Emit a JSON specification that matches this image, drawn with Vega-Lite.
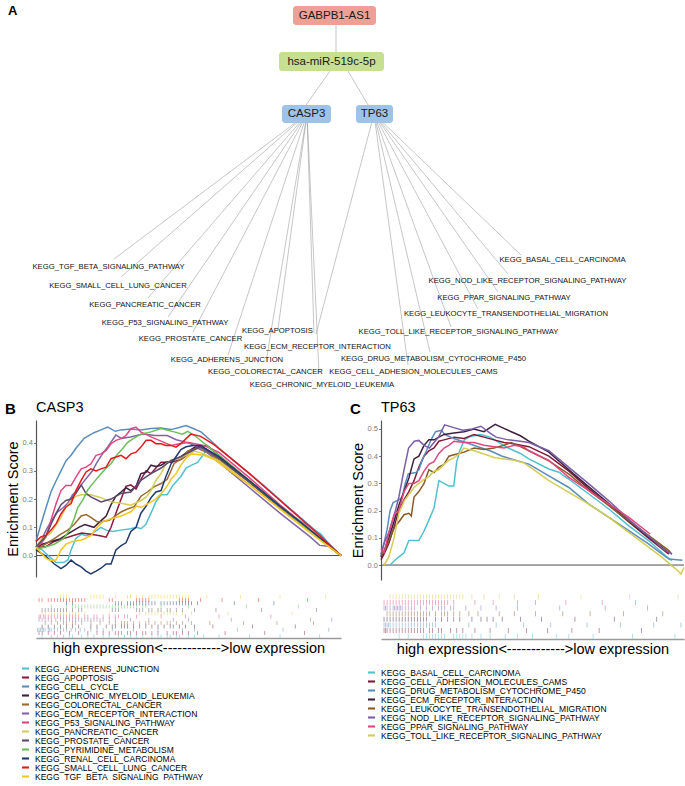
{
"$schema":"https://vega.github.io/schema/vega-lite/v6.json",
"padding":{"left":5,"top":0,"right":0,"bottom":0},
"config":{"font":"Liberation Sans","view":{"stroke":null},"axis":{"grid":false,"labelOverlap":false},"title":{"fontWeight":"normal","color":"#000"}},
"datasets":{
"nodes":[
{"id":"GABPB1-AS1","kind":"lncRNA","x1":292,"x2":375,"y1":6,"y2":25,"cx":333.5,"cy":15.5},
{"id":"hsa-miR-519c-5p","kind":"miRNA","x1":278,"x2":383,"y1":52,"y2":71,"cx":330.5,"cy":61.5},
{"id":"CASP3","kind":"mRNA","x1":281,"x2":330,"y1":105,"y2":123,"cx":305.5,"cy":114},
{"id":"TP63","kind":"mRNA","x1":355,"x2":392,"y1":105,"y2":123,"cx":373.5,"cy":114}
],
"edges":[
{"x":335,"y":15,"x2":335,"y2":62},
{"x":329,"y":71,"x2":305,"y2":105},
{"x":347,"y":71,"x2":367,"y2":105},
{"x":306,"y":114,"x2":113,"y2":259},
{"x":306,"y":114,"x2":120,"y2":277},
{"x":306,"y":114,"x2":147,"y2":298},
{"x":306,"y":114,"x2":167,"y2":317},
{"x":306,"y":114,"x2":192,"y2":332},
{"x":306,"y":114,"x2":227,"y2":355},
{"x":306,"y":114,"x2":277,"y2":329},
{"x":306,"y":114,"x2":265,"y2":362},
{"x":306,"y":114,"x2":313,"y2":333},
{"x":306,"y":114,"x2":318,"y2":373},
{"x":373,"y":114,"x2":520,"y2":255},
{"x":373,"y":114,"x2":507,"y2":274},
{"x":373,"y":114,"x2":497,"y2":292},
{"x":373,"y":114,"x2":477,"y2":309},
{"x":373,"y":114,"x2":450,"y2":327},
{"x":373,"y":114,"x2":429,"y2":352},
{"x":373,"y":114,"x2":407,"y2":365},
{"x":373,"y":114,"x2":315,"y2":334}
],
"labels":[
{"t":"KEGG_TGF_BETA_SIGNALING_PATHWAY","x":107.5,"y":267},
{"t":"KEGG_SMALL_CELL_LUNG_CANCER","x":117,"y":286},
{"t":"KEGG_PANCREATIC_CANCER","x":144,"y":305},
{"t":"KEGG_P53_SIGNALING_PATHWAY","x":164,"y":323},
{"t":"KEGG_PROSTATE_CANCER","x":189.5,"y":339},
{"t":"KEGG_APOPTOSIS","x":276.5,"y":331},
{"t":"KEGG_ECM_RECEPTOR_INTERACTION","x":316.5,"y":347},
{"t":"KEGG_ADHERENS_JUNCTION","x":226,"y":360},
{"t":"KEGG_COLORECTAL_CANCER","x":264.5,"y":372},
{"t":"KEGG_CHRONIC_MYELOID_LEUKEMIA","x":321,"y":385},
{"t":"KEGG_BASAL_CELL_CARCINOMA","x":561.5,"y":260},
{"t":"KEGG_NOD_LIKE_RECEPTOR_SIGNALING_PATHWAY","x":526.5,"y":281},
{"t":"KEGG_PPAR_SIGNALING_PATHWAY","x":503,"y":298},
{"t":"KEGG_LEUKOCYTE_TRANSENDOTHELIAL_MIGRATION","x":505,"y":314},
{"t":"KEGG_TOLL_LIKE_RECEPTOR_SIGNALING_PATHWAY","x":457.5,"y":332},
{"t":"KEGG_DRUG_METABOLISM_CYTOCHROME_P450","x":432.5,"y":359},
{"t":"KEGG_CELL_ADHESION_MOLECULES_CAMS","x":412.5,"y":372}
],
"namesB":[
{"p":"AJ","name":"KEGG_ADHERENS_JUNCTION"},{"p":"AP","name":"KEGG_APOPTOSIS"},{"p":"CC","name":"KEGG_CELL_CYCLE"},{"p":"CM","name":"KEGG_CHRONIC_MYELOID_LEUKEMIA"},{"p":"CR","name":"KEGG_COLORECTAL_CANCER"},{"p":"EC","name":"KEGG_ECM_RECEPTOR_INTERACTION"},{"p":"P5","name":"KEGG_P53_SIGNALING_PATHWAY"},{"p":"PA","name":"KEGG_PANCREATIC_CANCER"},{"p":"PR","name":"KEGG_PROSTATE_CANCER"},{"p":"PY","name":"KEGG_PYRIMIDINE_METABOLISM"},{"p":"RC","name":"KEGG_RENAL_CELL_CARCINOMA"},{"p":"SC","name":"KEGG_SMALL_CELL_LUNG_CANCER"},{"p":"TG","name":"KEGG_TGF_BETA_SIGNALING_PATHWAY"}
],
"namesC":[
{"p":"BC","name":"KEGG_BASAL_CELL_CARCINOMA"},{"p":"CA","name":"KEGG_CELL_ADHESION_MOLECULES_CAMS"},{"p":"DM","name":"KEGG_DRUG_METABOLISM_CYTOCHROME_P450"},{"p":"EC","name":"KEGG_ECM_RECEPTOR_INTERACTION"},{"p":"LT","name":"KEGG_LEUKOCYTE_TRANSENDOTHELIAL_MIGRATION"},{"p":"NL","name":"KEGG_NOD_LIKE_RECEPTOR_SIGNALING_PATHWAY"},{"p":"PP","name":"KEGG_PPAR_SIGNALING_PATHWAY"},{"p":"TL","name":"KEGG_TOLL_LIKE_RECEPTOR_SIGNALING_PATHWAY"}
],
"curvesB":[
{"p":"AJ","x":0,"y":0.03},{"p":"AJ","x":0.02,"y":0.02},{"p":"AJ","x":0.04,"y":0},{"p":"AJ","x":0.066,"y":-0.025},{"p":"AJ","x":0.09,"y":-0.025},{"p":"AJ","x":0.105,"y":-0.015},{"p":"AJ","x":0.115,"y":0.02},{"p":"AJ","x":0.13,"y":0.06},{"p":"AJ","x":0.148,"y":0.075},{"p":"AJ","x":0.165,"y":0.07},{"p":"AJ","x":0.18,"y":0.075},{"p":"AJ","x":0.2,"y":0.09},{"p":"AJ","x":0.213,"y":0.1},{"p":"AJ","x":0.23,"y":0.09},{"p":"AJ","x":0.25,"y":0.085},{"p":"AJ","x":0.279,"y":0.09},{"p":"AJ","x":0.31,"y":0.095},{"p":"AJ","x":0.33,"y":0.1},{"p":"AJ","x":0.344,"y":0.095},{"p":"AJ","x":0.36,"y":0.11},{"p":"AJ","x":0.377,"y":0.15},{"p":"AJ","x":0.393,"y":0.19},{"p":"AJ","x":0.41,"y":0.215},{"p":"AJ","x":0.43,"y":0.215},{"p":"AJ","x":0.45,"y":0.25},{"p":"AJ","x":0.475,"y":0.28},{"p":"AJ","x":0.492,"y":0.31},{"p":"AJ","x":0.51,"y":0.32},{"p":"AJ","x":0.53,"y":0.33},{"p":"AJ","x":0.557,"y":0.37},{"p":"AJ","x":0.6,"y":0.345},{"p":"AJ","x":0.7,"y":0.26},{"p":"AJ","x":0.8,"y":0.17},{"p":"AJ","x":0.9,"y":0.1},{"p":"AJ","x":0.935,"y":0.075},{"p":"AJ","x":0.96,"y":0.04},{"p":"AJ","x":1,"y":0},
{"p":"AP","x":0,"y":0.035},{"p":"AP","x":0.03,"y":0.03},{"p":"AP","x":0.06,"y":0.05},{"p":"AP","x":0.09,"y":0.06},{"p":"AP","x":0.12,"y":0.07},{"p":"AP","x":0.15,"y":0.08},{"p":"AP","x":0.18,"y":0.075},{"p":"AP","x":0.21,"y":0.07},{"p":"AP","x":0.23,"y":0.065},{"p":"AP","x":0.246,"y":0.1},{"p":"AP","x":0.262,"y":0.15},{"p":"AP","x":0.279,"y":0.2},{"p":"AP","x":0.295,"y":0.245},{"p":"AP","x":0.311,"y":0.25},{"p":"AP","x":0.328,"y":0.235},{"p":"AP","x":0.344,"y":0.27},{"p":"AP","x":0.361,"y":0.3},{"p":"AP","x":0.377,"y":0.29},{"p":"AP","x":0.393,"y":0.31},{"p":"AP","x":0.41,"y":0.33},{"p":"AP","x":0.443,"y":0.33},{"p":"AP","x":0.475,"y":0.34},{"p":"AP","x":0.5,"y":0.36},{"p":"AP","x":0.53,"y":0.385},{"p":"AP","x":0.56,"y":0.39},{"p":"AP","x":0.6,"y":0.355},{"p":"AP","x":0.7,"y":0.265},{"p":"AP","x":0.8,"y":0.175},{"p":"AP","x":0.9,"y":0.085},{"p":"AP","x":1,"y":0},
{"p":"CC","x":0,"y":0.05},{"p":"CC","x":0.016,"y":0.11},{"p":"CC","x":0.033,"y":0.17},{"p":"CC","x":0.049,"y":0.225},{"p":"CC","x":0.066,"y":0.265},{"p":"CC","x":0.082,"y":0.3},{"p":"CC","x":0.098,"y":0.335},{"p":"CC","x":0.115,"y":0.355},{"p":"CC","x":0.131,"y":0.38},{"p":"CC","x":0.158,"y":0.415},{"p":"CC","x":0.19,"y":0.435},{"p":"CC","x":0.213,"y":0.445},{"p":"CC","x":0.235,"y":0.455},{"p":"CC","x":0.26,"y":0.44},{"p":"CC","x":0.279,"y":0.445},{"p":"CC","x":0.31,"y":0.448},{"p":"CC","x":0.344,"y":0.445},{"p":"CC","x":0.377,"y":0.45},{"p":"CC","x":0.41,"y":0.452},{"p":"CC","x":0.443,"y":0.446},{"p":"CC","x":0.475,"y":0.455},{"p":"CC","x":0.492,"y":0.46},{"p":"CC","x":0.515,"y":0.45},{"p":"CC","x":0.541,"y":0.438},{"p":"CC","x":0.57,"y":0.41},{"p":"CC","x":0.6,"y":0.38},{"p":"CC","x":0.65,"y":0.335},{"p":"CC","x":0.75,"y":0.245},{"p":"CC","x":0.85,"y":0.15},{"p":"CC","x":0.93,"y":0.075},{"p":"CC","x":1,"y":0},
{"p":"CM","x":0,"y":0.03},{"p":"CM","x":0.02,"y":0.04},{"p":"CM","x":0.05,"y":0.05},{"p":"CM","x":0.08,"y":0.06},{"p":"CM","x":0.11,"y":0.08},{"p":"CM","x":0.14,"y":0.1},{"p":"CM","x":0.16,"y":0.11},{"p":"CM","x":0.19,"y":0.1},{"p":"CM","x":0.21,"y":0.12},{"p":"CM","x":0.23,"y":0.14},{"p":"CM","x":0.246,"y":0.18},{"p":"CM","x":0.262,"y":0.21},{"p":"CM","x":0.279,"y":0.225},{"p":"CM","x":0.295,"y":0.24},{"p":"CM","x":0.311,"y":0.23},{"p":"CM","x":0.328,"y":0.245},{"p":"CM","x":0.344,"y":0.29},{"p":"CM","x":0.361,"y":0.295},{"p":"CM","x":0.377,"y":0.32},{"p":"CM","x":0.393,"y":0.315},{"p":"CM","x":0.41,"y":0.32},{"p":"CM","x":0.426,"y":0.33},{"p":"CM","x":0.443,"y":0.335},{"p":"CM","x":0.475,"y":0.35},{"p":"CM","x":0.5,"y":0.37},{"p":"CM","x":0.53,"y":0.39},{"p":"CM","x":0.56,"y":0.375},{"p":"CM","x":0.6,"y":0.345},{"p":"CM","x":0.7,"y":0.26},{"p":"CM","x":0.8,"y":0.17},{"p":"CM","x":0.9,"y":0.085},{"p":"CM","x":1,"y":0},
{"p":"CR","x":0,"y":0.02},{"p":"CR","x":0.03,"y":0.04},{"p":"CR","x":0.06,"y":0.06},{"p":"CR","x":0.08,"y":0.075},{"p":"CR","x":0.104,"y":0.09},{"p":"CR","x":0.125,"y":0.11},{"p":"CR","x":0.148,"y":0.14},{"p":"CR","x":0.165,"y":0.145},{"p":"CR","x":0.18,"y":0.135},{"p":"CR","x":0.2,"y":0.12},{"p":"CR","x":0.213,"y":0.12},{"p":"CR","x":0.24,"y":0.125},{"p":"CR","x":0.26,"y":0.14},{"p":"CR","x":0.28,"y":0.155},{"p":"CR","x":0.3,"y":0.165},{"p":"CR","x":0.322,"y":0.173},{"p":"CR","x":0.344,"y":0.21},{"p":"CR","x":0.365,"y":0.225},{"p":"CR","x":0.388,"y":0.244},{"p":"CR","x":0.41,"y":0.255},{"p":"CR","x":0.43,"y":0.27},{"p":"CR","x":0.453,"y":0.326},{"p":"CR","x":0.48,"y":0.345},{"p":"CR","x":0.497,"y":0.37},{"p":"CR","x":0.53,"y":0.38},{"p":"CR","x":0.57,"y":0.36},{"p":"CR","x":0.6,"y":0.34},{"p":"CR","x":0.7,"y":0.26},{"p":"CR","x":0.8,"y":0.17},{"p":"CR","x":0.9,"y":0.085},{"p":"CR","x":1,"y":0},
{"p":"EC","x":0,"y":0.03},{"p":"EC","x":0.016,"y":0.05},{"p":"EC","x":0.033,"y":0.09},{"p":"EC","x":0.049,"y":0.12},{"p":"EC","x":0.071,"y":0.155},{"p":"EC","x":0.09,"y":0.17},{"p":"EC","x":0.104,"y":0.185},{"p":"EC","x":0.12,"y":0.215},{"p":"EC","x":0.137,"y":0.233},{"p":"EC","x":0.155,"y":0.26},{"p":"EC","x":0.17,"y":0.28},{"p":"EC","x":0.185,"y":0.3},{"p":"EC","x":0.2,"y":0.33},{"p":"EC","x":0.218,"y":0.36},{"p":"EC","x":0.235,"y":0.385},{"p":"EC","x":0.262,"y":0.427},{"p":"EC","x":0.28,"y":0.415},{"p":"EC","x":0.31,"y":0.42},{"p":"EC","x":0.35,"y":0.43},{"p":"EC","x":0.39,"y":0.425},{"p":"EC","x":0.43,"y":0.425},{"p":"EC","x":0.46,"y":0.41},{"p":"EC","x":0.497,"y":0.4},{"p":"EC","x":0.55,"y":0.375},{"p":"EC","x":0.6,"y":0.33},{"p":"EC","x":0.7,"y":0.24},{"p":"EC","x":0.8,"y":0.15},{"p":"EC","x":0.9,"y":0.065},{"p":"EC","x":0.93,"y":0.036},{"p":"EC","x":0.96,"y":0.033},{"p":"EC","x":1,"y":0},
{"p":"P5","x":0,"y":0.03},{"p":"P5","x":0.016,"y":0.042},{"p":"P5","x":0.033,"y":0.066},{"p":"P5","x":0.049,"y":0.125},{"p":"P5","x":0.066,"y":0.184},{"p":"P5","x":0.082,"y":0.23},{"p":"P5","x":0.098,"y":0.248},{"p":"P5","x":0.115,"y":0.248},{"p":"P5","x":0.131,"y":0.278},{"p":"P5","x":0.148,"y":0.307},{"p":"P5","x":0.164,"y":0.313},{"p":"P5","x":0.18,"y":0.325},{"p":"P5","x":0.197,"y":0.355},{"p":"P5","x":0.213,"y":0.36},{"p":"P5","x":0.23,"y":0.372},{"p":"P5","x":0.246,"y":0.396},{"p":"P5","x":0.262,"y":0.408},{"p":"P5","x":0.279,"y":0.414},{"p":"P5","x":0.295,"y":0.425},{"p":"P5","x":0.311,"y":0.449},{"p":"P5","x":0.328,"y":0.455},{"p":"P5","x":0.344,"y":0.437},{"p":"P5","x":0.361,"y":0.43},{"p":"P5","x":0.377,"y":0.42},{"p":"P5","x":0.41,"y":0.405},{"p":"P5","x":0.443,"y":0.39},{"p":"P5","x":0.475,"y":0.397},{"p":"P5","x":0.5,"y":0.4},{"p":"P5","x":0.55,"y":0.39},{"p":"P5","x":0.6,"y":0.365},{"p":"P5","x":0.7,"y":0.275},{"p":"P5","x":0.8,"y":0.18},{"p":"P5","x":0.9,"y":0.09},{"p":"P5","x":1,"y":0},
{"p":"PA","x":0,"y":0.03},{"p":"PA","x":0.016,"y":0.055},{"p":"PA","x":0.049,"y":0.08},{"p":"PA","x":0.082,"y":0.135},{"p":"PA","x":0.098,"y":0.17},{"p":"PA","x":0.115,"y":0.195},{"p":"PA","x":0.131,"y":0.21},{"p":"PA","x":0.148,"y":0.215},{"p":"PA","x":0.18,"y":0.215},{"p":"PA","x":0.213,"y":0.205},{"p":"PA","x":0.246,"y":0.19},{"p":"PA","x":0.279,"y":0.185},{"p":"PA","x":0.311,"y":0.178},{"p":"PA","x":0.344,"y":0.195},{"p":"PA","x":0.361,"y":0.207},{"p":"PA","x":0.377,"y":0.23},{"p":"PA","x":0.393,"y":0.266},{"p":"PA","x":0.41,"y":0.29},{"p":"PA","x":0.426,"y":0.325},{"p":"PA","x":0.443,"y":0.337},{"p":"PA","x":0.475,"y":0.348},{"p":"PA","x":0.492,"y":0.355},{"p":"PA","x":0.52,"y":0.37},{"p":"PA","x":0.55,"y":0.36},{"p":"PA","x":0.6,"y":0.335},{"p":"PA","x":0.7,"y":0.25},{"p":"PA","x":0.8,"y":0.165},{"p":"PA","x":0.9,"y":0.08},{"p":"PA","x":1,"y":0},
{"p":"PR","x":0,"y":0.03},{"p":"PR","x":0.033,"y":0.07},{"p":"PR","x":0.049,"y":0.11},{"p":"PR","x":0.066,"y":0.15},{"p":"PR","x":0.082,"y":0.18},{"p":"PR","x":0.098,"y":0.195},{"p":"PR","x":0.115,"y":0.2},{"p":"PR","x":0.131,"y":0.22},{"p":"PR","x":0.148,"y":0.25},{"p":"PR","x":0.164,"y":0.22},{"p":"PR","x":0.18,"y":0.208},{"p":"PR","x":0.213,"y":0.19},{"p":"PR","x":0.246,"y":0.2},{"p":"PR","x":0.279,"y":0.22},{"p":"PR","x":0.311,"y":0.225},{"p":"PR","x":0.344,"y":0.266},{"p":"PR","x":0.377,"y":0.29},{"p":"PR","x":0.41,"y":0.31},{"p":"PR","x":0.443,"y":0.337},{"p":"PR","x":0.475,"y":0.35},{"p":"PR","x":0.508,"y":0.37},{"p":"PR","x":0.54,"y":0.385},{"p":"PR","x":0.6,"y":0.345},{"p":"PR","x":0.7,"y":0.26},{"p":"PR","x":0.8,"y":0.17},{"p":"PR","x":0.9,"y":0.085},{"p":"PR","x":1,"y":0},
{"p":"PY","x":0,"y":0.02},{"p":"PY","x":0.03,"y":0.03},{"p":"PY","x":0.06,"y":0.04},{"p":"PY","x":0.09,"y":0.06},{"p":"PY","x":0.11,"y":0.09},{"p":"PY","x":0.125,"y":0.13},{"p":"PY","x":0.137,"y":0.17},{"p":"PY","x":0.155,"y":0.2},{"p":"PY","x":0.17,"y":0.233},{"p":"PY","x":0.19,"y":0.26},{"p":"PY","x":0.213,"y":0.29},{"p":"PY","x":0.23,"y":0.31},{"p":"PY","x":0.246,"y":0.325},{"p":"PY","x":0.268,"y":0.36},{"p":"PY","x":0.285,"y":0.38},{"p":"PY","x":0.3,"y":0.4},{"p":"PY","x":0.32,"y":0.415},{"p":"PY","x":0.344,"y":0.43},{"p":"PY","x":0.377,"y":0.438},{"p":"PY","x":0.41,"y":0.45},{"p":"PY","x":0.453,"y":0.438},{"p":"PY","x":0.48,"y":0.43},{"p":"PY","x":0.497,"y":0.44},{"p":"PY","x":0.52,"y":0.425},{"p":"PY","x":0.6,"y":0.355},{"p":"PY","x":0.7,"y":0.265},{"p":"PY","x":0.8,"y":0.175},{"p":"PY","x":0.9,"y":0.085},{"p":"PY","x":1,"y":0},
{"p":"RC","x":0,"y":0.02},{"p":"RC","x":0.03,"y":0},{"p":"RC","x":0.06,"y":-0.03},{"p":"RC","x":0.082,"y":-0.046},{"p":"RC","x":0.098,"y":-0.035},{"p":"RC","x":0.115,"y":-0.016},{"p":"RC","x":0.131,"y":-0.03},{"p":"RC","x":0.148,"y":-0.04},{"p":"RC","x":0.164,"y":-0.055},{"p":"RC","x":0.18,"y":-0.065},{"p":"RC","x":0.197,"y":-0.055},{"p":"RC","x":0.213,"y":-0.045},{"p":"RC","x":0.23,"y":-0.03},{"p":"RC","x":0.246,"y":-0.03},{"p":"RC","x":0.262,"y":0.02},{"p":"RC","x":0.279,"y":0.035},{"p":"RC","x":0.295,"y":0.045},{"p":"RC","x":0.311,"y":0.085},{"p":"RC","x":0.328,"y":0.1},{"p":"RC","x":0.344,"y":0.15},{"p":"RC","x":0.361,"y":0.175},{"p":"RC","x":0.377,"y":0.205},{"p":"RC","x":0.393,"y":0.225},{"p":"RC","x":0.41,"y":0.23},{"p":"RC","x":0.426,"y":0.28},{"p":"RC","x":0.443,"y":0.325},{"p":"RC","x":0.459,"y":0.35},{"p":"RC","x":0.475,"y":0.375},{"p":"RC","x":0.492,"y":0.385},{"p":"RC","x":0.515,"y":0.39},{"p":"RC","x":0.54,"y":0.39},{"p":"RC","x":0.57,"y":0.37},{"p":"RC","x":0.6,"y":0.35},{"p":"RC","x":0.7,"y":0.265},{"p":"RC","x":0.8,"y":0.175},{"p":"RC","x":0.9,"y":0.09},{"p":"RC","x":1,"y":0},
{"p":"SC","x":0,"y":0.05},{"p":"SC","x":0.016,"y":0.066},{"p":"SC","x":0.033,"y":0.072},{"p":"SC","x":0.049,"y":0.09},{"p":"SC","x":0.066,"y":0.113},{"p":"SC","x":0.082,"y":0.148},{"p":"SC","x":0.098,"y":0.172},{"p":"SC","x":0.115,"y":0.184},{"p":"SC","x":0.131,"y":0.23},{"p":"SC","x":0.148,"y":0.266},{"p":"SC","x":0.164,"y":0.296},{"p":"SC","x":0.18,"y":0.307},{"p":"SC","x":0.197,"y":0.3},{"p":"SC","x":0.213,"y":0.307},{"p":"SC","x":0.23,"y":0.313},{"p":"SC","x":0.246,"y":0.343},{"p":"SC","x":0.262,"y":0.349},{"p":"SC","x":0.279,"y":0.355},{"p":"SC","x":0.295,"y":0.343},{"p":"SC","x":0.311,"y":0.36},{"p":"SC","x":0.328,"y":0.366},{"p":"SC","x":0.344,"y":0.384},{"p":"SC","x":0.361,"y":0.408},{"p":"SC","x":0.377,"y":0.408},{"p":"SC","x":0.393,"y":0.396},{"p":"SC","x":0.41,"y":0.396},{"p":"SC","x":0.426,"y":0.39},{"p":"SC","x":0.443,"y":0.39},{"p":"SC","x":0.459,"y":0.384},{"p":"SC","x":0.475,"y":0.396},{"p":"SC","x":0.492,"y":0.414},{"p":"SC","x":0.508,"y":0.43},{"p":"SC","x":0.54,"y":0.422},{"p":"SC","x":0.585,"y":0.392},{"p":"SC","x":0.7,"y":0.29},{"p":"SC","x":0.8,"y":0.195},{"p":"SC","x":0.9,"y":0.1},{"p":"SC","x":1,"y":0},
{"p":"TG","x":0,"y":0.03},{"p":"TG","x":0.016,"y":0.01},{"p":"TG","x":0.033,"y":-0.01},{"p":"TG","x":0.049,"y":-0.018},{"p":"TG","x":0.066,"y":-0.015},{"p":"TG","x":0.082,"y":0.02},{"p":"TG","x":0.098,"y":0.04},{"p":"TG","x":0.12,"y":0.05},{"p":"TG","x":0.15,"y":0.055},{"p":"TG","x":0.18,"y":0.07},{"p":"TG","x":0.2,"y":0.1},{"p":"TG","x":0.22,"y":0.12},{"p":"TG","x":0.246,"y":0.13},{"p":"TG","x":0.279,"y":0.14},{"p":"TG","x":0.311,"y":0.155},{"p":"TG","x":0.33,"y":0.175},{"p":"TG","x":0.344,"y":0.17},{"p":"TG","x":0.361,"y":0.18},{"p":"TG","x":0.377,"y":0.19},{"p":"TG","x":0.393,"y":0.2},{"p":"TG","x":0.41,"y":0.22},{"p":"TG","x":0.426,"y":0.24},{"p":"TG","x":0.443,"y":0.27},{"p":"TG","x":0.459,"y":0.29},{"p":"TG","x":0.475,"y":0.32},{"p":"TG","x":0.492,"y":0.345},{"p":"TG","x":0.51,"y":0.36},{"p":"TG","x":0.55,"y":0.355},{"p":"TG","x":0.585,"y":0.34},{"p":"TG","x":0.7,"y":0.25},{"p":"TG","x":0.8,"y":0.165},{"p":"TG","x":0.9,"y":0.08},{"p":"TG","x":1,"y":0}
],
"curvesC":[
{"p":"BC","x":0.03,"y":0},{"p":"BC","x":0.043,"y":0.015},{"p":"BC","x":0.059,"y":0.03},{"p":"BC","x":0.076,"y":0.045},{"p":"BC","x":0.092,"y":0.09},{"p":"BC","x":0.109,"y":0.09},{"p":"BC","x":0.125,"y":0.09},{"p":"BC","x":0.142,"y":0.125},{"p":"BC","x":0.158,"y":0.165},{"p":"BC","x":0.175,"y":0.21},{"p":"BC","x":0.191,"y":0.31},{"p":"BC","x":0.208,"y":0.3},{"p":"BC","x":0.224,"y":0.29},{"p":"BC","x":0.24,"y":0.29},{"p":"BC","x":0.25,"y":0.38},{"p":"BC","x":0.26,"y":0.42},{"p":"BC","x":0.275,"y":0.46},{"p":"BC","x":0.29,"y":0.47},{"p":"BC","x":0.307,"y":0.475},{"p":"BC","x":0.33,"y":0.48},{"p":"BC","x":0.36,"y":0.47},{"p":"BC","x":0.39,"y":0.45},{"p":"BC","x":0.42,"y":0.43},{"p":"BC","x":0.46,"y":0.41},{"p":"BC","x":0.488,"y":0.39},{"p":"BC","x":0.554,"y":0.353},{"p":"BC","x":0.59,"y":0.34},{"p":"BC","x":0.6,"y":0.33},{"p":"BC","x":0.62,"y":0.316},{"p":"BC","x":0.686,"y":0.261},{"p":"BC","x":0.752,"y":0.206},{"p":"BC","x":0.818,"y":0.144},{"p":"BC","x":0.884,"y":0.089},{"p":"BC","x":0.939,"y":0.034},{"p":"BC","x":0.96,"y":0.016},
{"p":"CA","x":0,"y":0.02},{"p":"CA","x":0.01,"y":0.04},{"p":"CA","x":0.026,"y":0.08},{"p":"CA","x":0.043,"y":0.14},{"p":"CA","x":0.059,"y":0.2},{"p":"CA","x":0.076,"y":0.24},{"p":"CA","x":0.092,"y":0.27},{"p":"CA","x":0.109,"y":0.31},{"p":"CA","x":0.125,"y":0.36},{"p":"CA","x":0.142,"y":0.4},{"p":"CA","x":0.158,"y":0.42},{"p":"CA","x":0.175,"y":0.43},{"p":"CA","x":0.191,"y":0.455},{"p":"CA","x":0.208,"y":0.46},{"p":"CA","x":0.241,"y":0.47},{"p":"CA","x":0.274,"y":0.465},{"p":"CA","x":0.307,"y":0.48},{"p":"CA","x":0.34,"y":0.47},{"p":"CA","x":0.373,"y":0.46},{"p":"CA","x":0.406,"y":0.45},{"p":"CA","x":0.44,"y":0.445},{"p":"CA","x":0.488,"y":0.435},{"p":"CA","x":0.554,"y":0.4},{"p":"CA","x":0.62,"y":0.345},{"p":"CA","x":0.686,"y":0.28},{"p":"CA","x":0.752,"y":0.22},{"p":"CA","x":0.818,"y":0.158},{"p":"CA","x":0.884,"y":0.098},{"p":"CA","x":0.95,"y":0.04},
{"p":"DM","x":0,"y":0.03},{"p":"DM","x":0.01,"y":0.08},{"p":"DM","x":0.02,"y":0.13},{"p":"DM","x":0.03,"y":0.2},{"p":"DM","x":0.04,"y":0.23},{"p":"DM","x":0.05,"y":0.235},{"p":"DM","x":0.06,"y":0.24},{"p":"DM","x":0.07,"y":0.25},{"p":"DM","x":0.08,"y":0.3},{"p":"DM","x":0.09,"y":0.335},{"p":"DM","x":0.115,"y":0.34},{"p":"DM","x":0.125,"y":0.35},{"p":"DM","x":0.137,"y":0.39},{"p":"DM","x":0.15,"y":0.42},{"p":"DM","x":0.165,"y":0.46},{"p":"DM","x":0.18,"y":0.49},{"p":"DM","x":0.2,"y":0.495},{"p":"DM","x":0.21,"y":0.48},{"p":"DM","x":0.24,"y":0.465},{"p":"DM","x":0.28,"y":0.45},{"p":"DM","x":0.32,"y":0.435},{"p":"DM","x":0.36,"y":0.42},{"p":"DM","x":0.4,"y":0.4},{"p":"DM","x":0.43,"y":0.39},{"p":"DM","x":0.488,"y":0.371},{"p":"DM","x":0.554,"y":0.328},{"p":"DM","x":0.62,"y":0.285},{"p":"DM","x":0.686,"y":0.224},{"p":"DM","x":0.752,"y":0.175},{"p":"DM","x":0.818,"y":0.126},{"p":"DM","x":0.884,"y":0.077},{"p":"DM","x":0.928,"y":0.04},{"p":"DM","x":0.95,"y":0.022},{"p":"DM","x":0.995,"y":0.018},
{"p":"EC","x":0,"y":0.03},{"p":"EC","x":0.01,"y":0.05},{"p":"EC","x":0.026,"y":0.1},{"p":"EC","x":0.043,"y":0.16},{"p":"EC","x":0.059,"y":0.22},{"p":"EC","x":0.076,"y":0.27},{"p":"EC","x":0.092,"y":0.32},{"p":"EC","x":0.109,"y":0.39},{"p":"EC","x":0.125,"y":0.4},{"p":"EC","x":0.142,"y":0.44},{"p":"EC","x":0.158,"y":0.46},{"p":"EC","x":0.175,"y":0.46},{"p":"EC","x":0.191,"y":0.47},{"p":"EC","x":0.208,"y":0.48},{"p":"EC","x":0.241,"y":0.485},{"p":"EC","x":0.274,"y":0.49},{"p":"EC","x":0.307,"y":0.5},{"p":"EC","x":0.34,"y":0.49},{"p":"EC","x":0.36,"y":0.505},{"p":"EC","x":0.377,"y":0.517},{"p":"EC","x":0.4,"y":0.505},{"p":"EC","x":0.43,"y":0.49},{"p":"EC","x":0.46,"y":0.475},{"p":"EC","x":0.488,"y":0.455},{"p":"EC","x":0.554,"y":0.415},{"p":"EC","x":0.62,"y":0.35},{"p":"EC","x":0.686,"y":0.287},{"p":"EC","x":0.752,"y":0.226},{"p":"EC","x":0.818,"y":0.163},{"p":"EC","x":0.884,"y":0.102},{"p":"EC","x":0.95,"y":0.046},
{"p":"LT","x":0,"y":0.035},{"p":"LT","x":0.015,"y":0.06},{"p":"LT","x":0.03,"y":0.1},{"p":"LT","x":0.045,"y":0.14},{"p":"LT","x":0.06,"y":0.16},{"p":"LT","x":0.076,"y":0.185},{"p":"LT","x":0.092,"y":0.19},{"p":"LT","x":0.1,"y":0.18},{"p":"LT","x":0.109,"y":0.25},{"p":"LT","x":0.125,"y":0.27},{"p":"LT","x":0.142,"y":0.3},{"p":"LT","x":0.158,"y":0.35},{"p":"LT","x":0.175,"y":0.34},{"p":"LT","x":0.191,"y":0.36},{"p":"LT","x":0.208,"y":0.37},{"p":"LT","x":0.224,"y":0.4},{"p":"LT","x":0.241,"y":0.405},{"p":"LT","x":0.274,"y":0.415},{"p":"LT","x":0.307,"y":0.43},{"p":"LT","x":0.34,"y":0.425},{"p":"LT","x":0.373,"y":0.43},{"p":"LT","x":0.406,"y":0.44},{"p":"LT","x":0.43,"y":0.45},{"p":"LT","x":0.46,"y":0.435},{"p":"LT","x":0.488,"y":0.42},{"p":"LT","x":0.554,"y":0.383},{"p":"LT","x":0.62,"y":0.334},{"p":"LT","x":0.686,"y":0.273},{"p":"LT","x":0.752,"y":0.218},{"p":"LT","x":0.818,"y":0.163},{"p":"LT","x":0.884,"y":0.108},{"p":"LT","x":0.95,"y":0.053},{"p":"LT","x":0.96,"y":0.04},
{"p":"NL","x":0,"y":0.04},{"p":"NL","x":0.01,"y":0.08},{"p":"NL","x":0.026,"y":0.12},{"p":"NL","x":0.043,"y":0.18},{"p":"NL","x":0.059,"y":0.25},{"p":"NL","x":0.076,"y":0.35},{"p":"NL","x":0.091,"y":0.43},{"p":"NL","x":0.11,"y":0.455},{"p":"NL","x":0.125,"y":0.458},{"p":"NL","x":0.142,"y":0.44},{"p":"NL","x":0.16,"y":0.43},{"p":"NL","x":0.175,"y":0.45},{"p":"NL","x":0.19,"y":0.47},{"p":"NL","x":0.21,"y":0.515},{"p":"NL","x":0.24,"y":0.505},{"p":"NL","x":0.27,"y":0.495},{"p":"NL","x":0.3,"y":0.5},{"p":"NL","x":0.33,"y":0.51},{"p":"NL","x":0.36,"y":0.485},{"p":"NL","x":0.38,"y":0.47},{"p":"NL","x":0.42,"y":0.46},{"p":"NL","x":0.46,"y":0.455},{"p":"NL","x":0.488,"y":0.45},{"p":"NL","x":0.554,"y":0.42},{"p":"NL","x":0.62,"y":0.359},{"p":"NL","x":0.686,"y":0.298},{"p":"NL","x":0.752,"y":0.236},{"p":"NL","x":0.818,"y":0.168},{"p":"NL","x":0.868,"y":0.12},{"p":"NL","x":0.9,"y":0.09},{"p":"NL","x":0.93,"y":0.06},{"p":"NL","x":0.96,"y":0.04},
{"p":"PP","x":0,"y":0.06},{"p":"PP","x":0.01,"y":0.045},{"p":"PP","x":0.026,"y":0.12},{"p":"PP","x":0.043,"y":0.185},{"p":"PP","x":0.059,"y":0.2},{"p":"PP","x":0.076,"y":0.27},{"p":"PP","x":0.092,"y":0.3},{"p":"PP","x":0.109,"y":0.3},{"p":"PP","x":0.125,"y":0.31},{"p":"PP","x":0.142,"y":0.345},{"p":"PP","x":0.158,"y":0.37},{"p":"PP","x":0.175,"y":0.38},{"p":"PP","x":0.191,"y":0.41},{"p":"PP","x":0.208,"y":0.43},{"p":"PP","x":0.224,"y":0.44},{"p":"PP","x":0.241,"y":0.455},{"p":"PP","x":0.274,"y":0.45},{"p":"PP","x":0.307,"y":0.45},{"p":"PP","x":0.34,"y":0.44},{"p":"PP","x":0.373,"y":0.435},{"p":"PP","x":0.406,"y":0.43},{"p":"PP","x":0.44,"y":0.44},{"p":"PP","x":0.47,"y":0.435},{"p":"PP","x":0.488,"y":0.42},{"p":"PP","x":0.554,"y":0.385},{"p":"PP","x":0.62,"y":0.322},{"p":"PP","x":0.686,"y":0.273},{"p":"PP","x":0.752,"y":0.224},{"p":"PP","x":0.818,"y":0.175},{"p":"PP","x":0.888,"y":0.114},
{"p":"TL","x":0.01,"y":0},{"p":"TL","x":0.026,"y":0.03},{"p":"TL","x":0.043,"y":0.1},{"p":"TL","x":0.059,"y":0.19},{"p":"TL","x":0.076,"y":0.235},{"p":"TL","x":0.092,"y":0.26},{"p":"TL","x":0.109,"y":0.285},{"p":"TL","x":0.125,"y":0.3},{"p":"TL","x":0.142,"y":0.315},{"p":"TL","x":0.158,"y":0.325},{"p":"TL","x":0.175,"y":0.345},{"p":"TL","x":0.191,"y":0.35},{"p":"TL","x":0.208,"y":0.37},{"p":"TL","x":0.224,"y":0.385},{"p":"TL","x":0.241,"y":0.395},{"p":"TL","x":0.257,"y":0.408},{"p":"TL","x":0.274,"y":0.43},{"p":"TL","x":0.29,"y":0.425},{"p":"TL","x":0.307,"y":0.42},{"p":"TL","x":0.34,"y":0.408},{"p":"TL","x":0.373,"y":0.395},{"p":"TL","x":0.406,"y":0.39},{"p":"TL","x":0.44,"y":0.385},{"p":"TL","x":0.472,"y":0.375},{"p":"TL","x":0.505,"y":0.35},{"p":"TL","x":0.554,"y":0.31},{"p":"TL","x":0.62,"y":0.267},{"p":"TL","x":0.686,"y":0.224},{"p":"TL","x":0.752,"y":0.175},{"p":"TL","x":0.818,"y":0.12},{"p":"TL","x":0.884,"y":0.065},{"p":"TL","x":0.928,"y":0.028},{"p":"TL","x":0.96,"y":-0.003},{"p":"TL","x":0.98,"y":-0.021},{"p":"TL","x":0.99,"y":-0.033},{"p":"TL","x":1,"y":-0.009}
],
"rugB":[
{"p":"AJ","x":0.02},{"p":"AJ","x":0.05},{"p":"AJ","x":0.07},{"p":"AJ","x":0.09},{"p":"AJ","x":0.11},{"p":"AJ","x":0.12},{"p":"AJ","x":0.15},{"p":"AJ","x":0.17},{"p":"AJ","x":0.19},{"p":"AJ","x":0.22},{"p":"AJ","x":0.24},{"p":"AJ","x":0.27},{"p":"AJ","x":0.29},{"p":"AJ","x":0.31},{"p":"AJ","x":0.33},{"p":"AJ","x":0.35},{"p":"AJ","x":0.38},{"p":"AJ","x":0.4},{"p":"AJ","x":0.41},{"p":"AJ","x":0.43},{"p":"AJ","x":0.44},{"p":"AJ","x":0.46},{"p":"AJ","x":0.47},{"p":"AJ","x":0.5},{"p":"AJ","x":0.52},{"p":"AJ","x":0.55},{"p":"AJ","x":0.6},{"p":"AJ","x":0.7},{"p":"AJ","x":0.8},{"p":"AJ","x":0.93},
{"p":"AP","x":0.01},{"p":"AP","x":0.02},{"p":"AP","x":0.04},{"p":"AP","x":0.06},{"p":"AP","x":0.08},{"p":"AP","x":0.11},{"p":"AP","x":0.14},{"p":"AP","x":0.17},{"p":"AP","x":0.2},{"p":"AP","x":0.22},{"p":"AP","x":0.24},{"p":"AP","x":0.26},{"p":"AP","x":0.27},{"p":"AP","x":0.28},{"p":"AP","x":0.3},{"p":"AP","x":0.31},{"p":"AP","x":0.33},{"p":"AP","x":0.35},{"p":"AP","x":0.36},{"p":"AP","x":0.38},{"p":"AP","x":0.4},{"p":"AP","x":0.43},{"p":"AP","x":0.45},{"p":"AP","x":0.46},{"p":"AP","x":0.48},{"p":"AP","x":0.5},{"p":"AP","x":0.53},{"p":"AP","x":0.62},{"p":"AP","x":0.75},{"p":"AP","x":0.88},
{"p":"CC","x":0.005},{"p":"CC","x":0.01},{"p":"CC","x":0.015},{"p":"CC","x":0.02},{"p":"CC","x":0.025},{"p":"CC","x":0.03},{"p":"CC","x":0.04},{"p":"CC","x":0.045},{"p":"CC","x":0.05},{"p":"CC","x":0.06},{"p":"CC","x":0.07},{"p":"CC","x":0.08},{"p":"CC","x":0.09},{"p":"CC","x":0.1},{"p":"CC","x":0.115},{"p":"CC","x":0.13},{"p":"CC","x":0.145},{"p":"CC","x":0.16},{"p":"CC","x":0.18},{"p":"CC","x":0.2},{"p":"CC","x":0.22},{"p":"CC","x":0.25},{"p":"CC","x":0.32},{"p":"CC","x":0.4},{"p":"CC","x":0.48},{"p":"CC","x":0.52},{"p":"CC","x":0.66},{"p":"CC","x":0.81},{"p":"CC","x":0.96},
{"p":"CM","x":0.02},{"p":"CM","x":0.04},{"p":"CM","x":0.06},{"p":"CM","x":0.08},{"p":"CM","x":0.1},{"p":"CM","x":0.12},{"p":"CM","x":0.14},{"p":"CM","x":0.18},{"p":"CM","x":0.2},{"p":"CM","x":0.23},{"p":"CM","x":0.25},{"p":"CM","x":0.26},{"p":"CM","x":0.28},{"p":"CM","x":0.29},{"p":"CM","x":0.3},{"p":"CM","x":0.32},{"p":"CM","x":0.34},{"p":"CM","x":0.36},{"p":"CM","x":0.38},{"p":"CM","x":0.4},{"p":"CM","x":0.42},{"p":"CM","x":0.44},{"p":"CM","x":0.45},{"p":"CM","x":0.47},{"p":"CM","x":0.49},{"p":"CM","x":0.52},{"p":"CM","x":0.58},{"p":"CM","x":0.71},{"p":"CM","x":0.85},
{"p":"CR","x":0.03},{"p":"CR","x":0.05},{"p":"CR","x":0.07},{"p":"CR","x":0.09},{"p":"CR","x":0.1},{"p":"CR","x":0.12},{"p":"CR","x":0.13},{"p":"CR","x":0.15},{"p":"CR","x":0.18},{"p":"CR","x":0.21},{"p":"CR","x":0.24},{"p":"CR","x":0.26},{"p":"CR","x":0.28},{"p":"CR","x":0.29},{"p":"CR","x":0.3},{"p":"CR","x":0.32},{"p":"CR","x":0.34},{"p":"CR","x":0.36},{"p":"CR","x":0.37},{"p":"CR","x":0.39},{"p":"CR","x":0.41},{"p":"CR","x":0.43},{"p":"CR","x":0.44},{"p":"CR","x":0.46},{"p":"CR","x":0.48},{"p":"CR","x":0.51},{"p":"CR","x":0.57},{"p":"CR","x":0.68},{"p":"CR","x":0.79},{"p":"CR","x":0.91},
{"p":"EC","x":0.01},{"p":"EC","x":0.02},{"p":"EC","x":0.03},{"p":"EC","x":0.04},{"p":"EC","x":0.05},{"p":"EC","x":0.065},{"p":"EC","x":0.08},{"p":"EC","x":0.09},{"p":"EC","x":0.1},{"p":"EC","x":0.11},{"p":"EC","x":0.12},{"p":"EC","x":0.13},{"p":"EC","x":0.14},{"p":"EC","x":0.15},{"p":"EC","x":0.16},{"p":"EC","x":0.17},{"p":"EC","x":0.18},{"p":"EC","x":0.19},{"p":"EC","x":0.2},{"p":"EC","x":0.21},{"p":"EC","x":0.22},{"p":"EC","x":0.24},{"p":"EC","x":0.26},{"p":"EC","x":0.31},{"p":"EC","x":0.37},{"p":"EC","x":0.45},{"p":"EC","x":0.5},{"p":"EC","x":0.64},{"p":"EC","x":0.9},{"p":"EC","x":0.97},
{"p":"P5","x":0.01},{"p":"P5","x":0.015},{"p":"P5","x":0.025},{"p":"P5","x":0.03},{"p":"P5","x":0.04},{"p":"P5","x":0.05},{"p":"P5","x":0.06},{"p":"P5","x":0.07},{"p":"P5","x":0.08},{"p":"P5","x":0.09},{"p":"P5","x":0.1},{"p":"P5","x":0.11},{"p":"P5","x":0.12},{"p":"P5","x":0.13},{"p":"P5","x":0.14},{"p":"P5","x":0.16},{"p":"P5","x":0.17},{"p":"P5","x":0.19},{"p":"P5","x":0.2},{"p":"P5","x":0.22},{"p":"P5","x":0.24},{"p":"P5","x":0.26},{"p":"P5","x":0.27},{"p":"P5","x":0.29},{"p":"P5","x":0.3},{"p":"P5","x":0.33},{"p":"P5","x":0.41},{"p":"P5","x":0.49},{"p":"P5","x":0.6},{"p":"P5","x":0.77},
{"p":"PA","x":0.02},{"p":"PA","x":0.03},{"p":"PA","x":0.05},{"p":"PA","x":0.06},{"p":"PA","x":0.07},{"p":"PA","x":0.08},{"p":"PA","x":0.09},{"p":"PA","x":0.1},{"p":"PA","x":0.11},{"p":"PA","x":0.12},{"p":"PA","x":0.13},{"p":"PA","x":0.14},{"p":"PA","x":0.16},{"p":"PA","x":0.24},{"p":"PA","x":0.34},{"p":"PA","x":0.36},{"p":"PA","x":0.37},{"p":"PA","x":0.38},{"p":"PA","x":0.39},{"p":"PA","x":0.4},{"p":"PA","x":0.41},{"p":"PA","x":0.42},{"p":"PA","x":0.43},{"p":"PA","x":0.44},{"p":"PA","x":0.45},{"p":"PA","x":0.46},{"p":"PA","x":0.48},{"p":"PA","x":0.51},{"p":"PA","x":0.63},{"p":"PA","x":0.84},
{"p":"PR","x":0.02},{"p":"PR","x":0.03},{"p":"PR","x":0.04},{"p":"PR","x":0.05},{"p":"PR","x":0.06},{"p":"PR","x":0.07},{"p":"PR","x":0.08},{"p":"PR","x":0.09},{"p":"PR","x":0.1},{"p":"PR","x":0.12},{"p":"PR","x":0.14},{"p":"PR","x":0.15},{"p":"PR","x":0.25},{"p":"PR","x":0.26},{"p":"PR","x":0.27},{"p":"PR","x":0.33},{"p":"PR","x":0.34},{"p":"PR","x":0.35},{"p":"PR","x":0.37},{"p":"PR","x":0.38},{"p":"PR","x":0.4},{"p":"PR","x":0.41},{"p":"PR","x":0.43},{"p":"PR","x":0.44},{"p":"PR","x":0.46},{"p":"PR","x":0.48},{"p":"PR","x":0.52},{"p":"PR","x":0.59},{"p":"PR","x":0.74},{"p":"PR","x":0.92},
{"p":"PY","x":0.05},{"p":"PY","x":0.1},{"p":"PY","x":0.12},{"p":"PY","x":0.13},{"p":"PY","x":0.14},{"p":"PY","x":0.15},{"p":"PY","x":0.16},{"p":"PY","x":0.17},{"p":"PY","x":0.18},{"p":"PY","x":0.19},{"p":"PY","x":0.2},{"p":"PY","x":0.21},{"p":"PY","x":0.22},{"p":"PY","x":0.23},{"p":"PY","x":0.24},{"p":"PY","x":0.25},{"p":"PY","x":0.26},{"p":"PY","x":0.27},{"p":"PY","x":0.28},{"p":"PY","x":0.29},{"p":"PY","x":0.3},{"p":"PY","x":0.31},{"p":"PY","x":0.32},{"p":"PY","x":0.33},{"p":"PY","x":0.35},{"p":"PY","x":0.36},{"p":"PY","x":0.41},{"p":"PY","x":0.5},{"p":"PY","x":0.69},{"p":"PY","x":0.86},
{"p":"RC","x":0.1},{"p":"RC","x":0.12},{"p":"RC","x":0.26},{"p":"RC","x":0.27},{"p":"RC","x":0.28},{"p":"RC","x":0.3},{"p":"RC","x":0.31},{"p":"RC","x":0.32},{"p":"RC","x":0.33},{"p":"RC","x":0.34},{"p":"RC","x":0.35},{"p":"RC","x":0.36},{"p":"RC","x":0.37},{"p":"RC","x":0.38},{"p":"RC","x":0.39},{"p":"RC","x":0.41},{"p":"RC","x":0.42},{"p":"RC","x":0.43},{"p":"RC","x":0.44},{"p":"RC","x":0.45},{"p":"RC","x":0.46},{"p":"RC","x":0.47},{"p":"RC","x":0.48},{"p":"RC","x":0.49},{"p":"RC","x":0.5},{"p":"RC","x":0.51},{"p":"RC","x":0.53},{"p":"RC","x":0.65},{"p":"RC","x":0.78},
{"p":"SC","x":0.01},{"p":"SC","x":0.02},{"p":"SC","x":0.04},{"p":"SC","x":0.05},{"p":"SC","x":0.06},{"p":"SC","x":0.07},{"p":"SC","x":0.08},{"p":"SC","x":0.09},{"p":"SC","x":0.1},{"p":"SC","x":0.11},{"p":"SC","x":0.12},{"p":"SC","x":0.13},{"p":"SC","x":0.14},{"p":"SC","x":0.15},{"p":"SC","x":0.16},{"p":"SC","x":0.24},{"p":"SC","x":0.25},{"p":"SC","x":0.33},{"p":"SC","x":0.34},{"p":"SC","x":0.35},{"p":"SC","x":0.36},{"p":"SC","x":0.37},{"p":"SC","x":0.47},{"p":"SC","x":0.48},{"p":"SC","x":0.49},{"p":"SC","x":0.5},{"p":"SC","x":0.54},{"p":"SC","x":0.61},{"p":"SC","x":0.73},{"p":"SC","x":0.89},
{"p":"TG","x":0.08},{"p":"TG","x":0.09},{"p":"TG","x":0.1},{"p":"TG","x":0.18},{"p":"TG","x":0.19},{"p":"TG","x":0.2},{"p":"TG","x":0.21},{"p":"TG","x":0.22},{"p":"TG","x":0.26},{"p":"TG","x":0.3},{"p":"TG","x":0.31},{"p":"TG","x":0.33},{"p":"TG","x":0.35},{"p":"TG","x":0.37},{"p":"TG","x":0.38},{"p":"TG","x":0.39},{"p":"TG","x":0.4},{"p":"TG","x":0.41},{"p":"TG","x":0.42},{"p":"TG","x":0.43},{"p":"TG","x":0.44},{"p":"TG","x":0.45},{"p":"TG","x":0.46},{"p":"TG","x":0.47},{"p":"TG","x":0.48},{"p":"TG","x":0.5},{"p":"TG","x":0.56},{"p":"TG","x":0.67},{"p":"TG","x":0.8},{"p":"TG","x":0.95}
],
"rugC":[
{"p":"BC","x":0.06},{"p":"BC","x":0.09},{"p":"BC","x":0.14},{"p":"BC","x":0.15},{"p":"BC","x":0.16},{"p":"BC","x":0.17},{"p":"BC","x":0.18},{"p":"BC","x":0.19},{"p":"BC","x":0.2},{"p":"BC","x":0.21},{"p":"BC","x":0.24},{"p":"BC","x":0.25},{"p":"BC","x":0.26},{"p":"BC","x":0.27},{"p":"BC","x":0.28},{"p":"BC","x":0.3},{"p":"BC","x":0.33},{"p":"BC","x":0.36},{"p":"BC","x":0.41},{"p":"BC","x":0.45},{"p":"BC","x":0.5},{"p":"BC","x":0.58},{"p":"BC","x":0.62},{"p":"BC","x":0.7},{"p":"BC","x":0.83},{"p":"BC","x":0.97},
{"p":"CA","x":0.01},{"p":"CA","x":0.015},{"p":"CA","x":0.02},{"p":"CA","x":0.03},{"p":"CA","x":0.04},{"p":"CA","x":0.05},{"p":"CA","x":0.06},{"p":"CA","x":0.07},{"p":"CA","x":0.08},{"p":"CA","x":0.09},{"p":"CA","x":0.1},{"p":"CA","x":0.11},{"p":"CA","x":0.12},{"p":"CA","x":0.13},{"p":"CA","x":0.14},{"p":"CA","x":0.16},{"p":"CA","x":0.17},{"p":"CA","x":0.19},{"p":"CA","x":0.2},{"p":"CA","x":0.23},{"p":"CA","x":0.25},{"p":"CA","x":0.27},{"p":"CA","x":0.31},{"p":"CA","x":0.36},{"p":"CA","x":0.42},{"p":"CA","x":0.48},{"p":"CA","x":0.55},{"p":"CA","x":0.63},{"p":"CA","x":0.72},{"p":"CA","x":0.86},
{"p":"DM","x":0.01},{"p":"DM","x":0.015},{"p":"DM","x":0.02},{"p":"DM","x":0.025},{"p":"DM","x":0.03},{"p":"DM","x":0.04},{"p":"DM","x":0.05},{"p":"DM","x":0.06},{"p":"DM","x":0.07},{"p":"DM","x":0.08},{"p":"DM","x":0.09},{"p":"DM","x":0.1},{"p":"DM","x":0.11},{"p":"DM","x":0.12},{"p":"DM","x":0.13},{"p":"DM","x":0.14},{"p":"DM","x":0.15},{"p":"DM","x":0.16},{"p":"DM","x":0.17},{"p":"DM","x":0.18},{"p":"DM","x":0.29},{"p":"DM","x":0.38},{"p":"DM","x":0.47},{"p":"DM","x":0.56},{"p":"DM","x":0.68},{"p":"DM","x":0.79},{"p":"DM","x":0.9},{"p":"DM","x":0.99},
{"p":"EC","x":0.01},{"p":"EC","x":0.02},{"p":"EC","x":0.03},{"p":"EC","x":0.04},{"p":"EC","x":0.05},{"p":"EC","x":0.06},{"p":"EC","x":0.07},{"p":"EC","x":0.08},{"p":"EC","x":0.09},{"p":"EC","x":0.1},{"p":"EC","x":0.11},{"p":"EC","x":0.12},{"p":"EC","x":0.13},{"p":"EC","x":0.14},{"p":"EC","x":0.15},{"p":"EC","x":0.18},{"p":"EC","x":0.2},{"p":"EC","x":0.22},{"p":"EC","x":0.24},{"p":"EC","x":0.26},{"p":"EC","x":0.3},{"p":"EC","x":0.33},{"p":"EC","x":0.35},{"p":"EC","x":0.37},{"p":"EC","x":0.4},{"p":"EC","x":0.46},{"p":"EC","x":0.53},{"p":"EC","x":0.64},{"p":"EC","x":0.77},{"p":"EC","x":0.91},
{"p":"LT","x":0.02},{"p":"LT","x":0.03},{"p":"LT","x":0.04},{"p":"LT","x":0.05},{"p":"LT","x":0.06},{"p":"LT","x":0.07},{"p":"LT","x":0.08},{"p":"LT","x":0.09},{"p":"LT","x":0.1},{"p":"LT","x":0.11},{"p":"LT","x":0.12},{"p":"LT","x":0.13},{"p":"LT","x":0.14},{"p":"LT","x":0.15},{"p":"LT","x":0.16},{"p":"LT","x":0.18},{"p":"LT","x":0.2},{"p":"LT","x":0.21},{"p":"LT","x":0.22},{"p":"LT","x":0.24},{"p":"LT","x":0.26},{"p":"LT","x":0.29},{"p":"LT","x":0.32},{"p":"LT","x":0.39},{"p":"LT","x":0.44},{"p":"LT","x":0.51},{"p":"LT","x":0.6},{"p":"LT","x":0.69},{"p":"LT","x":0.8},{"p":"LT","x":0.93},
{"p":"NL","x":0.01},{"p":"NL","x":0.015},{"p":"NL","x":0.02},{"p":"NL","x":0.03},{"p":"NL","x":0.04},{"p":"NL","x":0.045},{"p":"NL","x":0.05},{"p":"NL","x":0.055},{"p":"NL","x":0.06},{"p":"NL","x":0.065},{"p":"NL","x":0.07},{"p":"NL","x":0.08},{"p":"NL","x":0.09},{"p":"NL","x":0.1},{"p":"NL","x":0.11},{"p":"NL","x":0.13},{"p":"NL","x":0.15},{"p":"NL","x":0.17},{"p":"NL","x":0.19},{"p":"NL","x":0.2},{"p":"NL","x":0.21},{"p":"NL","x":0.23},{"p":"NL","x":0.24},{"p":"NL","x":0.28},{"p":"NL","x":0.33},{"p":"NL","x":0.38},{"p":"NL","x":0.45},{"p":"NL","x":0.59},{"p":"NL","x":0.74},{"p":"NL","x":0.88},
{"p":"PP","x":0.01},{"p":"PP","x":0.02},{"p":"PP","x":0.03},{"p":"PP","x":0.04},{"p":"PP","x":0.05},{"p":"PP","x":0.06},{"p":"PP","x":0.07},{"p":"PP","x":0.08},{"p":"PP","x":0.09},{"p":"PP","x":0.1},{"p":"PP","x":0.11},{"p":"PP","x":0.12},{"p":"PP","x":0.13},{"p":"PP","x":0.14},{"p":"PP","x":0.15},{"p":"PP","x":0.16},{"p":"PP","x":0.17},{"p":"PP","x":0.18},{"p":"PP","x":0.19},{"p":"PP","x":0.2},{"p":"PP","x":0.21},{"p":"PP","x":0.22},{"p":"PP","x":0.24},{"p":"PP","x":0.31},{"p":"PP","x":0.37},{"p":"PP","x":0.45},{"p":"PP","x":0.51},{"p":"PP","x":0.61},{"p":"PP","x":0.73},{"p":"PP","x":0.84},
{"p":"TL","x":0.03},{"p":"TL","x":0.04},{"p":"TL","x":0.05},{"p":"TL","x":0.06},{"p":"TL","x":0.07},{"p":"TL","x":0.08},{"p":"TL","x":0.09},{"p":"TL","x":0.1},{"p":"TL","x":0.11},{"p":"TL","x":0.12},{"p":"TL","x":0.13},{"p":"TL","x":0.14},{"p":"TL","x":0.15},{"p":"TL","x":0.16},{"p":"TL","x":0.17},{"p":"TL","x":0.18},{"p":"TL","x":0.19},{"p":"TL","x":0.2},{"p":"TL","x":0.21},{"p":"TL","x":0.22},{"p":"TL","x":0.23},{"p":"TL","x":0.24},{"p":"TL","x":0.25},{"p":"TL","x":0.26},{"p":"TL","x":0.27},{"p":"TL","x":0.3},{"p":"TL","x":0.34},{"p":"TL","x":0.39},{"p":"TL","x":0.44},{"p":"TL","x":0.52},{"p":"TL","x":0.66},{"p":"TL","x":0.82},{"p":"TL","x":0.98}
]
},
"spacing":4,
"resolve":{"scale":{"x":"independent","y":"independent","color":"independent"},"legend":{"color":"independent"}},
"vconcat":[
{
"width":650,"height":395,
"title":{"text":"A","anchor":"start","frame":"group","offset":-18,"dx":-28,"fontSize":13,"fontWeight":"bold"},
"layer":[
{"data":{"name":"edges"},"mark":{"type":"rule","color":"#a0a0a0","strokeWidth":0.6},
 "encoding":{"x":{"field":"x","type":"quantitative","scale":{"domain":[35,685],"nice":false,"zero":false},"axis":null},"y":{"field":"y","type":"quantitative","scale":{"domain":[0,395],"nice":false,"zero":false,"reverse":true},"axis":null},"x2":{"field":"x2"},"y2":{"field":"y2"}}},
{"data":{"name":"nodes"},"mark":{"type":"rect","cornerRadius":3,"opacity":1},
 "encoding":{"x":{"field":"x1","type":"quantitative","scale":{"domain":[35,685],"nice":false,"zero":false},"axis":null},"x2":{"field":"x2"},"y":{"field":"y1","type":"quantitative","scale":{"domain":[0,395],"nice":false,"zero":false,"reverse":true},"axis":null},"y2":{"field":"y2"},
 "color":{"field":"kind","type":"nominal","scale":{"domain":["lncRNA","miRNA","mRNA"],"range":["#EFA096","#C6DF90","#9DC3E9"]},"legend":null}}},
{"data":{"name":"nodes"},"mark":{"type":"text","fontSize":11.5,"color":"#1a1a1a"},
 "encoding":{"x":{"field":"cx","type":"quantitative","scale":{"domain":[35,685],"nice":false,"zero":false},"axis":null},"y":{"field":"cy","type":"quantitative","scale":{"domain":[0,395],"nice":false,"zero":false,"reverse":true},"axis":null},"text":{"field":"id"}}},
{"data":{"name":"labels"},"mark":{"type":"text","fontSize":7.7,"color":"#111"},
 "encoding":{"x":{"field":"x","type":"quantitative","scale":{"domain":[35,685],"nice":false,"zero":false},"axis":null},"y":{"field":"y","type":"quantitative","scale":{"domain":[0,395],"nice":false,"zero":false,"reverse":true},"axis":null},"text":{"field":"t"}}}
]
},
{
"spacing":6,
"resolve":{"scale":{"x":"independent","y":"independent","color":"independent"},"legend":{"color":"independent"}},
"hconcat":[
{
"title":{"text":"B","anchor":"start","frame":"bounds","offset":-17,"fontSize":15,"fontWeight":"bold"},
"spacing":17,
"resolve":{"scale":{"x":"independent","y":"independent","color":"independent"},"legend":{"color":"independent"}},
"vconcat":[
{
"width":305,"height":157,
"title":{"text":"CASP3","anchor":"start","frame":"group","offset":5,"fontSize":14.5},
"encoding":{
 "y":{"field":"y","type":"quantitative","scale":{"domain":[-0.076,0.48],"nice":false,"zero":false},"axis":{"values":[0,0.1,0.2,0.3,0.4],"format":".1f","labelOverlap":false,"title":"Enrichment Score","titleFontSize":14.5,"titleFontWeight":"normal","titleColor":"#000","titlePadding":2,"labelFontSize":7.5,"labelColor":"#7a7a7a","labelPadding":1,"tickSize":2.5,"tickColor":"#7a7a7a","domainColor":"#555","domainWidth":1.2}}
},
"layer":[
{"data":{"values":[{"y":0}]},"mark":{"type":"rule","color":"#4d4d4d","strokeWidth":1},"encoding":{}},
{"data":{"name":"curvesB"},"mark":{"type":"line","strokeWidth":1.5},
 "encoding":{
 "x":{"field":"x","type":"quantitative","scale":{"domain":[0,1],"nice":false,"zero":false},"axis":null},
 "color":{"field":"p","type":"nominal","scale":{"domain":["AJ","AP","CC","CM","CR","EC","P5","PA","PR","PY","RC","SC","TG"],"range":["#4FC1D0","#8E1B3D","#5B8DBC","#3E1F3F","#9A6A2F","#8064A9","#E2467E","#D4CC55","#5C4A6E","#6ABF5A","#1F3B6E","#E3191D","#F7C520"]},"legend":null}
 }}
]
},
{
"width":305,"height":43,
"data":{"name":"rugB"},
"transform":[{"lookup":"p","from":{"data":{"name":"namesB"},"key":"p","fields":["name"]}}],
"mark":{"type":"tick","thickness":0.8,"size":4,"opacity":0.55},
"encoding":{
 "x":{"field":"x","type":"quantitative","scale":{"domain":[0,1],"nice":false,"zero":false},"axis":{"title":"high expression<------------>low expression","labels":false,"ticks":false,"domainColor":"#9a9a9a","domainWidth":1.5,"titleFontSize":14.5,"titleFontWeight":"normal","titleColor":"#000","titlePadding":3}},
 "y":{"field":"p","type":"nominal","sort":"descending","scale":{"paddingInner":0,"paddingOuter":0},"axis":null},
 "color":{"field":"name","type":"nominal","scale":{"domain":["KEGG_ADHERENS_JUNCTION","KEGG_APOPTOSIS","KEGG_CELL_CYCLE","KEGG_CHRONIC_MYELOID_LEUKEMIA","KEGG_COLORECTAL_CANCER","KEGG_ECM_RECEPTOR_INTERACTION","KEGG_P53_SIGNALING_PATHWAY","KEGG_PANCREATIC_CANCER","KEGG_PROSTATE_CANCER","KEGG_PYRIMIDINE_METABOLISM","KEGG_RENAL_CELL_CARCINOMA","KEGG_SMALL_CELL_LUNG_CANCER","KEGG_TGF_BETA_SIGNALING_PATHWAY"],"range":["#4FC1D0","#8E1B3D","#5B8DBC","#3E1F3F","#9A6A2F","#8064A9","#E2467E","#D4CC55","#5C4A6E","#6ABF5A","#1F3B6E","#E3191D","#F7C520"]},
 "legend":{"orient":"none","legendX":-15,"legendY":69,"title":null,"symbolType":"M-1,-0.3H1V0.3H-1Z","symbolSize":49,"symbolOpacity":1,"labelFontSize":8.5,"labelColor":"#000","labelLimit":400,"labelOffset":5,"rowPadding":0,"padding":0}}
}
}
]
},
{
"title":{"text":"C","anchor":"start","frame":"bounds","offset":-17,"fontSize":15,"fontWeight":"bold"},
"spacing":14,
"resolve":{"scale":{"x":"independent","y":"independent","color":"independent"},"legend":{"color":"independent"}},
"vconcat":[
{
"width":303,"height":160,
"title":{"text":"TP63","anchor":"start","frame":"group","offset":5,"fontSize":14.5},
"encoding":{
 "y":{"field":"y","type":"quantitative","scale":{"domain":[-0.055,0.533],"nice":false,"zero":false},"axis":{"values":[0,0.1,0.2,0.3,0.4,0.5],"format":".1f","labelOverlap":false,"title":"Enrichment Score","titleFontSize":14.5,"titleFontWeight":"normal","titleColor":"#000","titlePadding":2,"labelFontSize":7.5,"labelColor":"#7a7a7a","labelPadding":1,"tickSize":2.5,"tickColor":"#7a7a7a","domainColor":"#555","domainWidth":1.2}}
},
"layer":[
{"data":{"values":[{"y":0}]},"mark":{"type":"rule","color":"#4d4d4d","strokeWidth":1},"encoding":{}},
{"data":{"name":"curvesC"},"mark":{"type":"line","strokeWidth":1.5},
 "encoding":{
 "x":{"field":"x","type":"quantitative","scale":{"domain":[0,1],"nice":false,"zero":false},"axis":null},
 "color":{"field":"p","type":"nominal","scale":{"domain":["BC","CA","DM","EC","LT","NL","PP","TL"],"range":["#4FC1D0","#7D1A37","#5B8DBC","#3E1F3F","#8A5A25","#7A5EA8","#E2467E","#D4CC55"]},"legend":null}
 }}
]
},
{
"width":303,"height":45,
"data":{"name":"rugC"},
"transform":[{"lookup":"p","from":{"data":{"name":"namesC"},"key":"p","fields":["name"]}}],
"mark":{"type":"tick","thickness":0.8,"size":5,"opacity":0.55},
"encoding":{
 "x":{"field":"x","type":"quantitative","scale":{"domain":[0,1],"nice":false,"zero":false},"axis":{"title":"high expression<------------>low expression","labels":false,"ticks":false,"domainColor":"#9a9a9a","domainWidth":1.5,"titleFontSize":14.5,"titleFontWeight":"normal","titleColor":"#000","titlePadding":3}},
 "y":{"field":"p","type":"nominal","sort":"descending","scale":{"paddingInner":0,"paddingOuter":0},"axis":null},
 "color":{"field":"name","type":"nominal","scale":{"domain":["KEGG_BASAL_CELL_CARCINOMA","KEGG_CELL_ADHESION_MOLECULES_CAMS","KEGG_DRUG_METABOLISM_CYTOCHROME_P450","KEGG_ECM_RECEPTOR_INTERACTION","KEGG_LEUKOCYTE_TRANSENDOTHELIAL_MIGRATION","KEGG_NOD_LIKE_RECEPTOR_SIGNALING_PATHWAY","KEGG_PPAR_SIGNALING_PATHWAY","KEGG_TOLL_LIKE_RECEPTOR_SIGNALING_PATHWAY"],"range":["#4FC1D0","#7D1A37","#5B8DBC","#3E1F3F","#8A5A25","#7A5EA8","#E2467E","#D4CC55"]},
 "legend":{"orient":"none","legendX":-14,"legendY":74,"title":null,"symbolType":"M-1,-0.3H1V0.3H-1Z","symbolSize":49,"symbolOpacity":1,"labelFontSize":8.5,"labelColor":"#000","labelLimit":400,"labelOffset":5,"rowPadding":0,"padding":0}}
}
}
]
}
]
}
]
}
